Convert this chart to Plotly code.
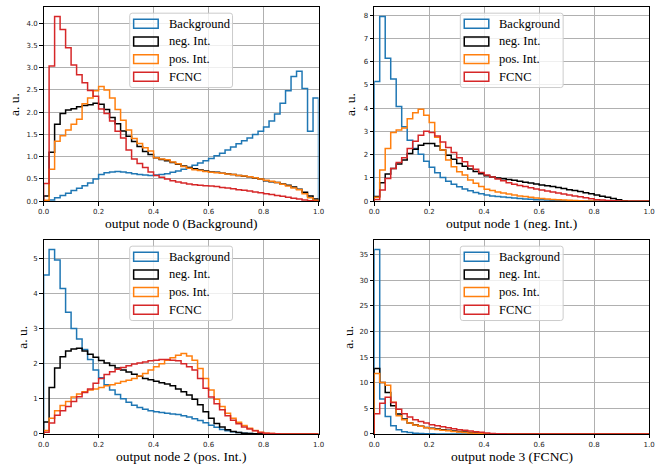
import numpy as np
import plotly.graph_objects as go

# ---------------------------------------------------------------------------
# Normalised classifier-output distributions (50 bins on [0, 1])
# ---------------------------------------------------------------------------
series_names = ["Background", "neg. Int.", "pos. Int.", "FCNC"]
series_colors = ["#1f77b4", "#000000", "#ff7f0e", "#d62728"]

node_titles = [
    "output node 0 (Background)",
    "output node 1 (neg. Int.)",
    "output node 2 (pos. Int.)",
    "output node 3 (FCNC)",
]

# node 0 (Background)
bg_node0 = [0.01, 0.03, 0.08, 0.13, 0.18, 0.24, 0.29, 0.35, 0.41, 0.5,
            0.6, 0.64, 0.66, 0.67, 0.66, 0.64, 0.62, 0.6, 0.59, 0.58,
            0.59, 0.6, 0.62, 0.65, 0.68, 0.72, 0.76, 0.81, 0.86, 0.91,
            0.96, 1.02, 1.08, 1.15, 1.22, 1.29, 1.36, 1.42, 1.5, 1.57,
            1.67, 1.8, 1.96, 2.2, 2.48, 2.8, 2.92, 2.53, 1.57, 2.32]
neg_node0 = [0.12, 1.1, 1.73, 1.97, 2.05, 2.08, 2.12, 2.15, 2.17, 2.2,
             2.18, 2.06, 1.88, 1.74, 1.58, 1.46, 1.34, 1.23, 1.12, 1.05,
             0.98, 0.94, 0.91, 0.87, 0.83, 0.79, 0.76, 0.73, 0.7, 0.68,
             0.66, 0.65, 0.63, 0.62, 0.6, 0.58, 0.56, 0.55, 0.52, 0.5,
             0.46, 0.44, 0.42, 0.39, 0.36, 0.32, 0.27, 0.2, 0.12, 0.05]
pos_node0 = [0.02, 0.72, 1.35, 1.47, 1.6, 1.73, 1.84, 2.19, 2.32, 2.48,
             2.58, 2.5, 2.32, 2.06, 1.82, 1.6, 1.41, 1.3, 1.2, 1.13,
             0.98, 0.95, 0.93, 0.88, 0.84, 0.78, 0.74, 0.71, 0.69, 0.67,
             0.65, 0.64, 0.63, 0.61, 0.6, 0.58, 0.57, 0.55, 0.53, 0.5,
             0.47, 0.45, 0.42, 0.38, 0.34, 0.3, 0.26, 0.17, 0.08, 0.02]
fcnc_node0 = [0.4, 3.04, 4.15, 3.86, 3.45, 3.06, 2.84, 2.66, 2.49, 2.36,
              2.07, 1.97, 1.8, 1.57, 1.42, 1.15, 0.95, 0.85, 0.76, 0.66,
              0.58, 0.54, 0.5, 0.46, 0.43, 0.41, 0.39, 0.37, 0.36, 0.35,
              0.34, 0.33, 0.31, 0.3, 0.28, 0.26, 0.25, 0.23, 0.21, 0.19,
              0.17, 0.15, 0.13, 0.11, 0.09, 0.07, 0.05, 0.03, 0.01, 0.0]

# node 1 (neg. Int.)
bg_node1 = [5.15, 7.94, 6.15, 5.25, 4.07, 3.2, 2.62, 2.27, 2.02, 1.72,
            1.46, 1.22, 1.02, 0.86, 0.73, 0.62, 0.53, 0.45, 0.38, 0.32,
            0.27, 0.23, 0.2, 0.18, 0.16, 0.14, 0.12, 0.1, 0.085, 0.07,
            0.06, 0.05, 0.04, 0.03, 0.025, 0.02, 0.015, 0.01, 0.008, 0.006,
            0.005, 0.004, 0.003, 0.002, 0.002, 0.001, 0.001, 0.001, 0.0, 0.0]
neg_node1 = [0.2, 0.8, 1.17, 1.41, 1.6, 1.77, 2.05, 2.24, 2.41, 2.48,
             2.48, 2.37, 2.2, 1.98, 1.8, 1.62, 1.5, 1.39, 1.28, 1.18,
             1.1, 1.04, 1.0, 0.97, 0.94, 0.9, 0.86, 0.82, 0.78, 0.74,
             0.7, 0.67, 0.63, 0.59, 0.55, 0.5, 0.46, 0.42, 0.37, 0.32,
             0.27, 0.22, 0.17, 0.12, 0.06, 0.02, 0.005, 0.002, 0.001, 0.0]
pos_node1 = [0.17, 1.34, 2.27, 2.95, 3.06, 3.15, 3.55, 3.8, 3.95, 3.7,
             3.38, 2.75, 2.2, 1.77, 1.48, 1.27, 1.13, 0.91, 0.77, 0.63,
             0.52, 0.46, 0.4, 0.35, 0.31, 0.27, 0.23, 0.2, 0.17, 0.14,
             0.12, 0.1, 0.08, 0.06, 0.05, 0.04, 0.03, 0.02, 0.015, 0.01,
             0.005, 0.004, 0.003, 0.002, 0.001, 0.001, 0.0, 0.0, 0.0, 0.0]
fcnc_node1 = [0.08, 0.48, 0.98, 1.41, 1.67, 1.87, 2.27, 2.58, 2.84, 3.01,
              2.95, 2.8, 2.55, 2.31, 2.1, 1.87, 1.7, 1.51, 1.38, 1.24,
              1.13, 1.04, 0.96, 0.88, 0.8, 0.73, 0.68, 0.63, 0.58, 0.53,
              0.48, 0.44, 0.4, 0.35, 0.31, 0.27, 0.23, 0.19, 0.15, 0.11,
              0.07, 0.05, 0.03, 0.02, 0.01, 0.005, 0.004, 0.003, 0.002, 0.001]

# node 2 (pos. Int.)
bg_node2 = [4.52, 5.25, 4.95, 4.14, 3.46, 3.0, 2.7, 2.4, 2.12, 1.82,
            1.6, 1.4, 1.25, 1.12, 1.0, 0.9, 0.82, 0.75, 0.7, 0.66,
            0.63, 0.61, 0.59, 0.57, 0.55, 0.52, 0.48, 0.43, 0.38, 0.32,
            0.25, 0.19, 0.13, 0.09, 0.06, 0.04, 0.02, 0.01, 0.005, 0.003,
            0.002, 0.001, 0.0, 0.0, 0.0, 0.0, 0.0, 0.0, 0.0, 0.0]
neg_node2 = [0.34, 1.32, 1.88, 2.2, 2.36, 2.42, 2.44, 2.36, 2.27, 2.18,
             2.09, 2.02, 1.95, 1.88, 1.82, 1.76, 1.7, 1.64, 1.58, 1.54,
             1.5, 1.46, 1.42, 1.37, 1.28, 1.2, 1.11, 0.99, 0.83, 0.63,
             0.45, 0.3, 0.2, 0.12, 0.07, 0.04, 0.02, 0.01, 0.005, 0.003,
             0.002, 0.001, 0.0, 0.0, 0.0, 0.0, 0.0, 0.0, 0.0, 0.0]
pos_node2 = [0.1, 0.45, 0.66, 0.81, 0.92, 1.05, 1.14, 1.2, 1.25, 1.28,
             1.32, 1.37, 1.4, 1.44, 1.49, 1.53, 1.58, 1.65, 1.72, 1.82,
             1.91, 2.0, 2.1, 2.17, 2.24, 2.29, 2.22, 2.1, 1.86, 1.58,
             1.25, 0.99, 0.78, 0.59, 0.45, 0.33, 0.24, 0.16, 0.1, 0.05,
             0.02, 0.01, 0.005, 0.0, 0.0, 0.0, 0.0, 0.0, 0.0, 0.0]
fcnc_node2 = [0.05, 0.31, 0.53, 0.66, 0.78, 0.92, 1.06, 1.18, 1.28, 1.44,
              1.58, 1.69, 1.77, 1.84, 1.89, 1.94, 1.99, 2.02, 2.05, 2.08,
              2.1, 2.12, 2.12, 2.1, 2.08, 2.0, 1.91, 1.82, 1.58, 1.3,
              1.05, 0.86, 0.69, 0.52, 0.39, 0.29, 0.2, 0.14, 0.09, 0.04,
              0.02, 0.01, 0.005, 0.0, 0.0, 0.0, 0.0, 0.0, 0.0, 0.0]

# node 3 (FCNC)
bg_node3 = [36.0, 6.83, 3.42, 1.61, 0.84, 0.45, 0.26, 0.15, 0.08, 0.04,
            0.02, 0.01, 0.005, 0.003, 0.002, 0.001, 0.0, 0.0, 0.0, 0.0,
            0.0, 0.0, 0.0, 0.0, 0.0, 0.0, 0.0, 0.0, 0.0, 0.0,
            0.0, 0.0, 0.0, 0.0, 0.0, 0.0, 0.0, 0.0, 0.0, 0.0,
            0.0, 0.0, 0.0, 0.0, 0.0, 0.0, 0.0, 0.0, 0.0, 0.0]
neg_node3 = [12.77, 10.06, 8.1, 5.5, 3.9, 2.9, 2.15, 1.8, 1.5, 1.28,
             1.1, 0.95, 0.82, 0.7, 0.58, 0.47, 0.37, 0.28, 0.2, 0.12,
             0.06, 0.03, 0.01, 0.005, 0.0, 0.0, 0.0, 0.0, 0.0, 0.0,
             0.0, 0.0, 0.0, 0.0, 0.0, 0.0, 0.0, 0.0, 0.0, 0.0,
             0.0, 0.0, 0.0, 0.0, 0.0, 0.0, 0.0, 0.0, 0.0, 0.0]
pos_node3 = [11.8, 10.06, 9.5, 6.2, 3.55, 2.77, 2.13, 1.74, 1.48, 1.22,
             1.03, 0.88, 0.74, 0.6, 0.48, 0.37, 0.27, 0.18, 0.1, 0.05,
             0.02, 0.01, 0.005, 0.0, 0.0, 0.0, 0.0, 0.0, 0.0, 0.0,
             0.0, 0.0, 0.0, 0.0, 0.0, 0.0, 0.0, 0.0, 0.0, 0.0,
             0.0, 0.0, 0.0, 0.0, 0.0, 0.0, 0.0, 0.0, 0.0, 0.0]
fcnc_node3 = [3.93, 6.0, 7.16, 6.13, 4.84, 3.93, 3.29, 2.77, 2.45, 2.13,
              1.8, 1.61, 1.42, 1.22, 1.03, 0.84, 0.7, 0.58, 0.45, 0.32,
              0.2, 0.1, 0.05, 0.02, 0.01, 0.005, 0.0, 0.0, 0.0, 0.0,
              0.0, 0.0, 0.0, 0.0, 0.0, 0.0, 0.0, 0.0, 0.0, 0.0,
              0.0, 0.0, 0.0, 0.0, 0.0, 0.0, 0.0, 0.0, 0.0, 0.0]

node_data = [
    [bg_node0, neg_node0, pos_node0, fcnc_node0],
    [bg_node1, neg_node1, pos_node1, fcnc_node1],
    [bg_node2, neg_node2, pos_node2, fcnc_node2],
    [bg_node3, neg_node3, pos_node3, fcnc_node3],
]

# y tick spacing and label format per node
ytick_step = [0.5, 1, 1, 5]
ytick_fmt = [".1f", "d", "d", "d"]

bin_edges = np.linspace(0.0, 1.0, 51)

# ---------------------------------------------------------------------------
# Layout geometry (pixels)
# ---------------------------------------------------------------------------
W, H = 663, 467
# (left, right, top, bottom) of each axes box
boxes = [
    (38.3, 318.3, 7.3, 203.0),
    (375.0, 655.0, 7.3, 203.0),
    (38.3, 318.3, 242.3, 437.7),
    (375.0, 655.0, 242.3, 437.7),
]
ytitle_x = [8.0, 351.0, 16.0, 348.0]

SERIF = "Liberation Serif"
SANS = "DejaVu Sans"


def px(x):
    return x / W


def py(y):
    return 1.0 - y / H


def step_xy(values):
    vals = list(values)
    xs = [bin_edges[0]] + list(bin_edges[:-1]) + [bin_edges[-1], bin_edges[-1]]
    ys = [0.0] + vals + [vals[-1], 0.0]
    return xs, ys


fig = go.Figure()
shapes = []
annotations = []

for k, (series_list, box) in enumerate(zip(node_data, boxes)):
    ax = "" if k == 0 else str(k + 1)
    for name, color, vals in zip(series_names, series_colors, series_list):
        xs, ys = step_xy(vals)
        fig.add_trace(go.Scatter(
            x=xs, y=ys, mode="lines", name=name,
            line=dict(color=color, width=1.5, shape="hv"),
            xaxis="x" + ax, yaxis="y" + ax, showlegend=False,
            hoverinfo="skip",
        ))

    left, right, top, bottom = box
    ymax = max(max(v) for v in series_list) * 1.05
    common = dict(
        showline=True, linecolor="black", linewidth=1, mirror=True,
        ticks="outside", ticklen=3.5, tickwidth=0.8, tickcolor="black",
        showgrid=True, gridcolor="#b0b0b0", gridwidth=0.8,
        zeroline=False, tickfont=dict(family=SANS, size=7, color="#222222"),
    )
    fig.update_layout(**{
        "xaxis" + ax: dict(
            common, domain=[px(left), px(right)], range=[0, 1],
            dtick=0.2, tick0=0, tickformat=".1f",
            anchor="y" + ax,
        ),
        "yaxis" + ax: dict(
            common, domain=[py(bottom), py(top)], range=[0, ymax],
            dtick=ytick_step[k], tick0=0, tickformat=ytick_fmt[k],
            anchor="x" + ax,
        ),
    })

    # axis titles
    annotations.append(dict(
        text=node_titles[k], xref="paper", yref="paper",
        x=px((left + right) / 2), y=py(bottom + 22.5),
        xanchor="center", yanchor="middle", showarrow=False,
        font=dict(family=SERIF, size=13.5, color="black"),
    ))
    annotations.append(dict(
        text="a. u.", xref="paper", yref="paper",
        x=px(ytitle_x[k]), y=py((top + bottom) / 2),
        xanchor="center", yanchor="middle", showarrow=False, textangle=-90,
        font=dict(family=SERIF, size=13.5, color="black"),
    ))

    # legend box
    fx0, fx1 = left + 87.7, left + 192.4
    fy0, fy1 = top + 6.0, top + 81.0
    r = 2.5
    path = (
        f"M {px(fx0 + r)},{py(fy0)} L {px(fx1 - r)},{py(fy0)} "
        f"Q {px(fx1)},{py(fy0)} {px(fx1)},{py(fy0 + r)} "
        f"L {px(fx1)},{py(fy1 - r)} Q {px(fx1)},{py(fy1)} {px(fx1 - r)},{py(fy1)} "
        f"L {px(fx0 + r)},{py(fy1)} Q {px(fx0)},{py(fy1)} {px(fx0)},{py(fy1 - r)} "
        f"L {px(fx0)},{py(fy0 + r)} Q {px(fx0)},{py(fy0)} {px(fx0 + r)},{py(fy0)} Z"
    )
    shapes.append(dict(
        type="path", path=path, xref="paper", yref="paper",
        fillcolor="rgba(255,255,255,0.8)",
        line=dict(color="#cccccc", width=1), layer="above",
    ))
    for j, (name, color) in enumerate(zip(series_names, series_colors)):
        cy = top + 16.7 + 17.8 * j
        shapes.append(dict(
            type="rect", xref="paper", yref="paper",
            x0=px(left + 91.7), x1=px(left + 116.7),
            y0=py(cy + 4.5), y1=py(cy - 4.5),
            line=dict(color=color, width=1.5), fillcolor="rgba(0,0,0,0)",
            layer="above",
        ))
        annotations.append(dict(
            text=name, xref="paper", yref="paper",
            x=px(left + 125.5), y=py(cy),
            xanchor="left", yanchor="middle", showarrow=False,
            font=dict(family=SERIF, size=12.5, color="black"),
        ))

fig.update_layout(
    width=W, height=H,
    margin=dict(l=0, r=0, t=0, b=0),
    paper_bgcolor="white", plot_bgcolor="white",
    showlegend=False,
    shapes=shapes, annotations=annotations,
)

fig.write_html("out.html")
